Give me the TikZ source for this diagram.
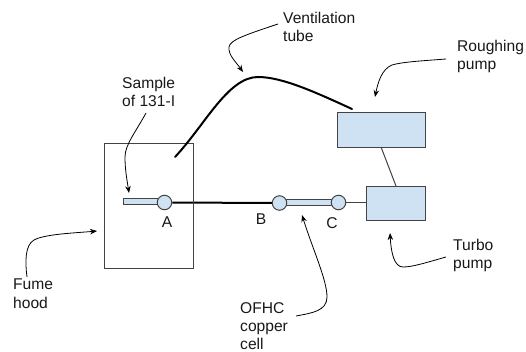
\documentclass[tikz,border=0pt]{standalone}
\usepackage{fontspec}
\setmainfont{Liberation Sans}
\usetikzlibrary{arrows.meta}
\definecolor{fillblue}{HTML}{CFE2F3}
\definecolor{edgegrey}{HTML}{434343}
\tikzset{
  lbl/.style={inner sep=0pt,align=left,anchor=north west,font=\fontsize{15.6}{18.6}\selectfont,text=black!90},
  cen/.style={inner sep=0pt,anchor=base,font=\fontsize{15.6}{18.6}\selectfont,text=black!90},
  pump/.style={draw=edgegrey,fill=fillblue,line width=1.2pt,inner sep=0pt,anchor=north west},
  joint/.style={circle,draw=edgegrey,fill=fillblue,line width=1pt,minimum size=14.5pt,inner sep=0pt},
  cell/.style={draw=edgegrey,fill=fillblue,line width=0.8pt,inner sep=0pt,anchor=north west},
  thick tube/.style={line width=2pt,black},
  wire/.style={line width=1pt,edgegrey},
  callout/.style={line width=0.8pt,black,-{Stealth[length=7pt,width=5.5pt]}}
}
\begin{document}
\begin{tikzpicture}[x=1pt,y=-1pt]
\useasboundingbox (0,0) rectangle (526,352);
\fill[white] (0,0) rectangle (526,352);
\coordinate (ventstart) at (175,157);
\coordinate (ventend) at (352,109);
\coordinate (rb) at (381,147);
\coordinate (tt) at (396,186);
\node[cell,minimum width=38pt,minimum height=6pt] (sample) at (122.5,198) {};
\node[cell,minimum width=48pt,minimum height=6pt] (ofhc) at (285,199.5) {};
\node[pump,minimum width=88pt,minimum height=35pt] (rough) at (337,112) {};
\node[pump,minimum width=59pt,minimum height=34pt] (turbo) at (366,186) {};
\node[joint] (A) at (164.5,202.5) {};
\node[joint] (B) at (279.5,203) {};
\node[joint] (C) at (338.5,202.5) {};
\draw[thick tube] (A.east) -- (B.west);
\node[draw=edgegrey,line width=1.2pt,minimum width=89pt,minimum height=125pt,inner sep=0pt,anchor=north west] (hood) at (104,143) {};
\draw[wire] (C.east) -- (turbo.west |- C.east);
\draw[wire] (rb) -- (tt);
\draw[thick tube,line cap=round] (ventstart) .. controls (205,125) and (228,77) .. (258,77) .. controls (282,77) and (315,92) .. (ventend);
\node[lbl] (tv) at (283,11.6) {Ventilation\\tube};
\node[lbl] (ts) at (122,76.6) {Sample\\of 131-I};
\node[lbl] (tr) at (457,39.6) {Roughing\\pump};
\node[lbl] (tt2) at (453,238.6) {Turbo\\pump};
\node[lbl] (tf) at (13,278.6) {Fume\\hood};
\node[lbl,font=\fontsize{15.6}{18.3}\selectfont] (tc) at (240,302) {OFHC\\copper\\cell};
\node[cen] (la) at (167,228) {A};
\node[cen] (lb) at (261,225) {B};
\node[cen] (lc) at (332,229) {C};
\coordinate (va) at (278,24);
\coordinate (vb) at (243,72);
\draw[callout] (va) .. controls (245,35) and (230,40) .. (229,47) .. controls (228,55) and (236,62) .. (vb);
\coordinate (sa) at (146,113);
\coordinate (sb) at (129,193);
\draw[callout] (sa) .. controls (135,133) and (125,145) .. (125,157) .. controls (125,170) and (127,180) .. (sb);
\coordinate (ra) at (446,59);
\coordinate (rt) at (375,97);
\draw[callout] (ra) .. controls (420,61) and (402,62) .. (392,65) .. controls (382,69) and (378,82) .. (rt);
\coordinate (ta) at (446,257);
\coordinate (tb) at (390,233);
\draw[callout] (ta) .. controls (425,263) and (412,267) .. (403,267) .. controls (394,267) and (391,252) .. (tb);
\coordinate (fa) at (27,277);
\coordinate (fb) at (97,231);
\draw[callout] (fa) .. controls (25,262) and (25,245) .. (34,240) .. controls (45,234) and (75,233) .. (fb);
\coordinate (ca) at (296,316);
\coordinate (cb) at (302,215);
\draw[callout] (ca) .. controls (312,313) and (327,311) .. (327,297) .. controls (327,280) and (313,250) .. (cb);
\end{tikzpicture}
\end{document}
